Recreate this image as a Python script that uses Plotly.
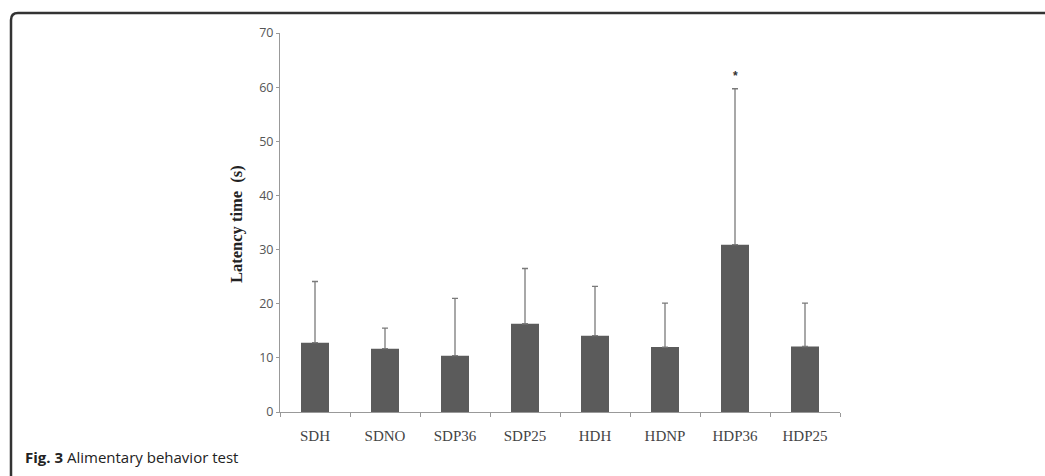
import plotly.graph_objects as go

groups = ["SDH", "SDNO", "SDP36", "SDP25", "HDH", "HDNP", "HDP36", "HDP25"]
latency_mean = [12.8, 11.7, 10.4, 16.3, 14.1, 12.0, 30.9, 12.1]
latency_sd = [11.3, 3.8, 10.6, 10.2, 9.1, 8.1, 28.8, 8.0]
y_ticks = [0, 10, 20, 30, 40, 50, 60, 70]
significant_group = "HDP36"
significance_y = 62.0

W, H = 1045, 476
L, R, T, B = 280, 205, 33, 64
pw, ph = W - L - R, H - T - B

def px(x):
    return (x - L) / pw

def py(y):
    return (H - B - y) / ph

fig = go.Figure()
fig.add_trace(go.Bar(
    x=groups, y=latency_mean,
    marker=dict(color="#5b5b5b", line=dict(width=0)),
    width=0.4,
    error_y=dict(type="data", symmetric=False, array=latency_sd,
                 arrayminus=[0] * len(groups), color="#7a7a7a",
                 thickness=1.3, width=3),
    showlegend=False,
))

# frame with rounded top-left corner
x0, y0, x1, y1 = px(11), py(13), px(1060), py(490)
rx, ry = 7 / pw, 7 / ph
fig.add_shape(type="path", xref="paper", yref="paper",
              path=f"M {x0},{y1} L {x0},{y0 - ry} Q {x0},{y0} {x0 + rx},{y0} L {x1},{y0}",
              line=dict(color="#333333", width=2.5))

fig.add_annotation(text="<b>Latency time  (s)</b>", xref="paper", yref="paper",
                   x=px(236), y=py(224), textangle=-90, showarrow=False,
                   font=dict(family="Liberation Serif", size=16.5, color="#222"),
                   xanchor="center", yanchor="middle")
fig.add_annotation(text="<b>*</b>", x=significant_group, y=significance_y,
                   showarrow=False, font=dict(family="Liberation Sans", size=12, color="#333"),
                   yanchor="middle")
fig.add_annotation(text="<b>Fig. 3</b> Alimentary behavior test", xref="paper", yref="paper",
                   x=px(23), y=py(457), showarrow=False, xanchor="left", yanchor="middle",
                   font=dict(family="Open Sans", size=15, color="#222"))

fig.update_layout(
    width=W, height=H,
    margin=dict(l=L, r=R, t=T, b=B),
    paper_bgcolor="white", plot_bgcolor="white",
    bargap=0.6,
)
fig.update_xaxes(showline=True, linecolor="#999", linewidth=1,
                 ticks="outside", tickson="boundaries", ticklen=4, tickcolor="#999",
                 ticklabelstandoff=10,
                 showgrid=False, zeroline=False,
                 tickfont=dict(family="Liberation Serif", size=15, color="#444"))
fig.update_yaxes(range=[0, 70], tickvals=y_ticks, showline=True, linecolor="#999",
                 linewidth=1, ticks="outside", ticklen=3, tickcolor="#999",
                 showgrid=False, zeroline=False,
                 tickfont=dict(family="Open Sans", size=12.5, color="#555"))

fig.write_html("out.html")
